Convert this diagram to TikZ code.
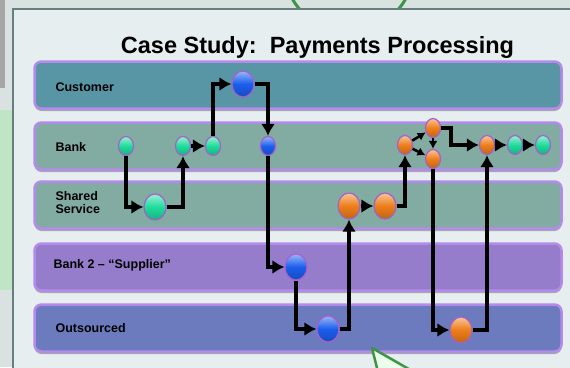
\documentclass[tikz,border=0pt]{standalone}
\usepackage{fontspec}
\setmainfont{Liberation Sans}
\usetikzlibrary{arrows.meta}
\usetikzlibrary{positioning}
\usetikzlibrary{shapes.geometric}
\usetikzlibrary{shadows}

\definecolor{custfill}{HTML}{5896A6}
\definecolor{bankfill}{HTML}{82ACA2}
\definecolor{suppfill}{HTML}{957DCB}
\definecolor{outfill}{HTML}{6B7BBD}
\definecolor{laneglow}{HTML}{B48AEC}
\definecolor{dotgreen}{HTML}{1EDC9C}
\definecolor{dotblue}{HTML}{1B5EEE}
\definecolor{dotorange}{HTML}{EE7E1A}
\definecolor{decogreen}{HTML}{3C9444}
\definecolor{panelfill}{HTML}{E7EEF0}
\definecolor{backfill}{HTML}{D9E2E0}

\begin{document}
\begin{tikzpicture}[x=1pt, y=-1pt,
    lane/.style={rectangle, rounded corners=7pt, minimum width=527pt, minimum height=47pt,
        fill=#1, draw=laneglow, line width=2.5pt,
        drop shadow={shadow xshift=0pt, shadow yshift=-2.5pt, fill=black!60, opacity=.5}},
    lanename/.style={anchor=west, font=\bfseries\fontsize{12.5}{13}\selectfont, align=left},
    dot/.style={ellipse, draw=laneglow!70!violet, line width=1.2pt, inner sep=0pt,
        top color=#1!45!white, bottom color=#1!80!black, middle color=#1,
        minimum width=15pt, minimum height=19pt},
    bigdot/.style={dot=#1, minimum width=22pt, minimum height=26pt},
    flow/.style={draw, line width=4.6pt, -{Latex[length=12pt, width=14pt]}},
    thinflow/.style={draw, line width=2.6pt, -{Latex[length=8pt, width=9pt]}},
]
    \useasboundingbox (0,0) rectangle (570,367);
    \clip (0,0) rectangle (570,367);

    % slide background
    \fill[backfill] (0,0) rectangle (570,367);
    \fill[gray!70] (0,0) rectangle (5,88);
    \fill[green!12!backfill] (0,110) rectangle (13,290);
    \draw[decogreen, line width=3pt] (349,-33) circle (65);
    \fill[panelfill, draw=gray!80!teal, line width=1.8pt] (13,9) rectangle (580,380);

    \node (title) [anchor=base, font=\bfseries\fontsize{23.5}{26}\selectfont] at (317.5,53)
        {Case Study:\ \ Payments Processing};

    % swim lanes
    \node (customer) [lane=custfill] at (298,85) {};
    \node (bank)     [lane=bankfill] at (298,146) {};
    \node (shared)   [lane=bankfill] at (298,205) {};
    \node (supplier) [lane=suppfill] at (298,267) {};
    \node (outsrc)   [lane=outfill]  at (298,328) {};

    \node (customertext) [lanename] at (52,87) {Customer};
    \node (banktext)     [lanename] at (52,147) {Bank};
    \node (sharedtext)   [lanename] at (52,203) {Shared\\Service};
    \node (suppliertext) [lanename] at (50,265) {Bank 2 -- ``Supplier''};
    \node (outsrctext)   [lanename] at (52,328) {Outsourced};

    % steps
    \node (g1) [dot=dotgreen] at (126,146) {};
    \node (g2) [dot=dotgreen] at (183,146) {};
    \node (g3) [dot=dotgreen] at (213,146) {};
    \node (g4) [bigdot=dotgreen] at (155,207) {};
    \node (b1) [bigdot=dotblue] at (243,84) {};
    \node (b2) [dot=dotblue] at (268,146) {};
    \node (b3) [bigdot=dotblue] at (296,267) {};
    \node (b4) [bigdot=dotblue] at (328,329) {};
    \node (o1) [bigdot=dotorange] at (349,206) {};
    \node (o2) [bigdot=dotorange] at (385,206) {};
    \node (o3) [dot=dotorange] at (405,145) {};
    \node (o4) [dot=dotorange] at (433,128) {};
    \node (o5) [dot=dotorange] at (433,159) {};
    \node (o6) [dot=dotorange] at (487,145) {};
    \node (g5) [dot=dotgreen] at (515,145) {};
    \node (g6) [dot=dotgreen] at (543,145) {};
    \node (o7) [bigdot=dotorange] at (461,330) {};
    \coordinate (turn) at (451,128);

    % flow
    \draw[flow] (g1) |- (g4);
    \draw[flow] (g4) -| (g2);
    \draw[flow] (g2) -- (g3);
    \draw[flow] (g3) |- (b1);
    \draw[flow] (b1) -| (b2);
    \draw[flow] (b2) |- (b3);
    \draw[flow] (b3) |- (b4);
    \draw[flow] (b4) -| (o1);
    \draw[flow] (o1) -- (o2);
    \draw[flow] (o2) -| (o3);
    \draw[thinflow] (o3) -- (o4);
    \draw[thinflow] (o3) -- (o5);
    \draw[thinflow] (o4) -- (o5);
    \draw[flow] (o4) -- (turn) |- (o6);
    \draw[flow] (o6) -- (g5);
    \draw[flow] (g5) -- (g6);
    \draw[flow] (o5) |- (o7);
    \draw[flow] (o7) -| (o6);

    % green pointer at the bottom edge
    \draw[decogreen, fill=green!8!white, line width=2.5pt, line join=round]
        (372,348) -- (378,372) -- (414,372) -- cycle;
\end{tikzpicture}
\end{document}
